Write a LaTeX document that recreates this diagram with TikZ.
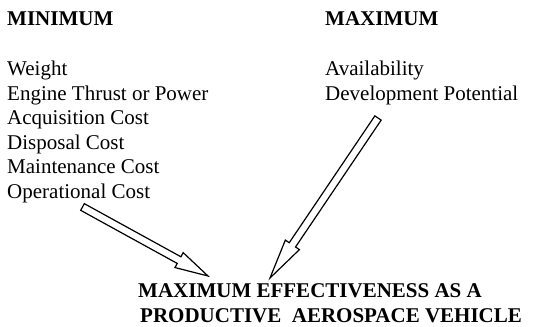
\documentclass[tikz,border=0pt]{standalone}
\usepackage{fontspec}
\setmainfont{Liberation Serif}
\usepackage{tikz}
\usetikzlibrary{calc,positioning}
\definecolor{InkColor}{RGB}{0,0,0}

% hollow block arrow: tail, tip, half shaft, half head, head length
\newcommand{\blockarrow}[5]{%
  \coordinate (#1-base) at ($(#2)!#5!(#1)$);
  \draw[blockline] ($(#1)!#3!90:(#2)$) -- ($(#1-base)!#3!90:(#2)$)
    -- ($(#1-base)!#4!90:(#2)$) -- (#2)
    -- ($(#1-base)!#4!-90:(#2)$) -- ($(#1-base)!#3!-90:(#2)$)
    -- ($(#1)!#3!-90:(#2)$) -- cycle;}

\begin{document}
\begin{tikzpicture}[x=1pt, y=-1pt,
    listtext/.style={font=\fontsize{21}{24.6}\selectfont, align=left, inner sep=0pt, anchor=base west, InkColor},
    headtext/.style={listtext, font=\fontsize{21}{24.3}\selectfont\bfseries},
    blockline/.style={draw=InkColor, fill=white, line width=1.2pt, line join=miter}]
  \useasboundingbox (0,0) rectangle (534,326);
  % column headings
  \node[headtext] (minhead) at (7,25.5) {MINIMUM};
  \node[headtext] (maxhead) at (325,25.5) {MAXIMUM};
  % lists (base = last line)
  \node[listtext] (minlist) at (7,198.5) {Weight\\ Engine Thrust or Power\\ Acquisition Cost\\ Disposal Cost\\ Maintenance Cost\\ Operational Cost};
  \node[listtext] (maxlist) at (325,100.1) {Availability\\ Development Potential};
  % goal
  \node[headtext] (goal) at (138,322) {MAXIMUM EFFECTIVENESS AS A\\ \hspace*{2pt}PRODUCTIVE\ \ AEROSPACE VEHICLE};
  % arrows into the goal
  \coordinate (ltail) at (82.5,207);
  \coordinate (ltip) at (208,276);
  \coordinate (rtail) at (378,118);
  \coordinate (rtip) at (270,278);
  \blockarrow{ltail}{ltip}{3.8pt}{8.5pt}{33pt}
  \blockarrow{rtail}{rtip}{3.8pt}{8.5pt}{40pt}
\end{tikzpicture}
\end{document}
